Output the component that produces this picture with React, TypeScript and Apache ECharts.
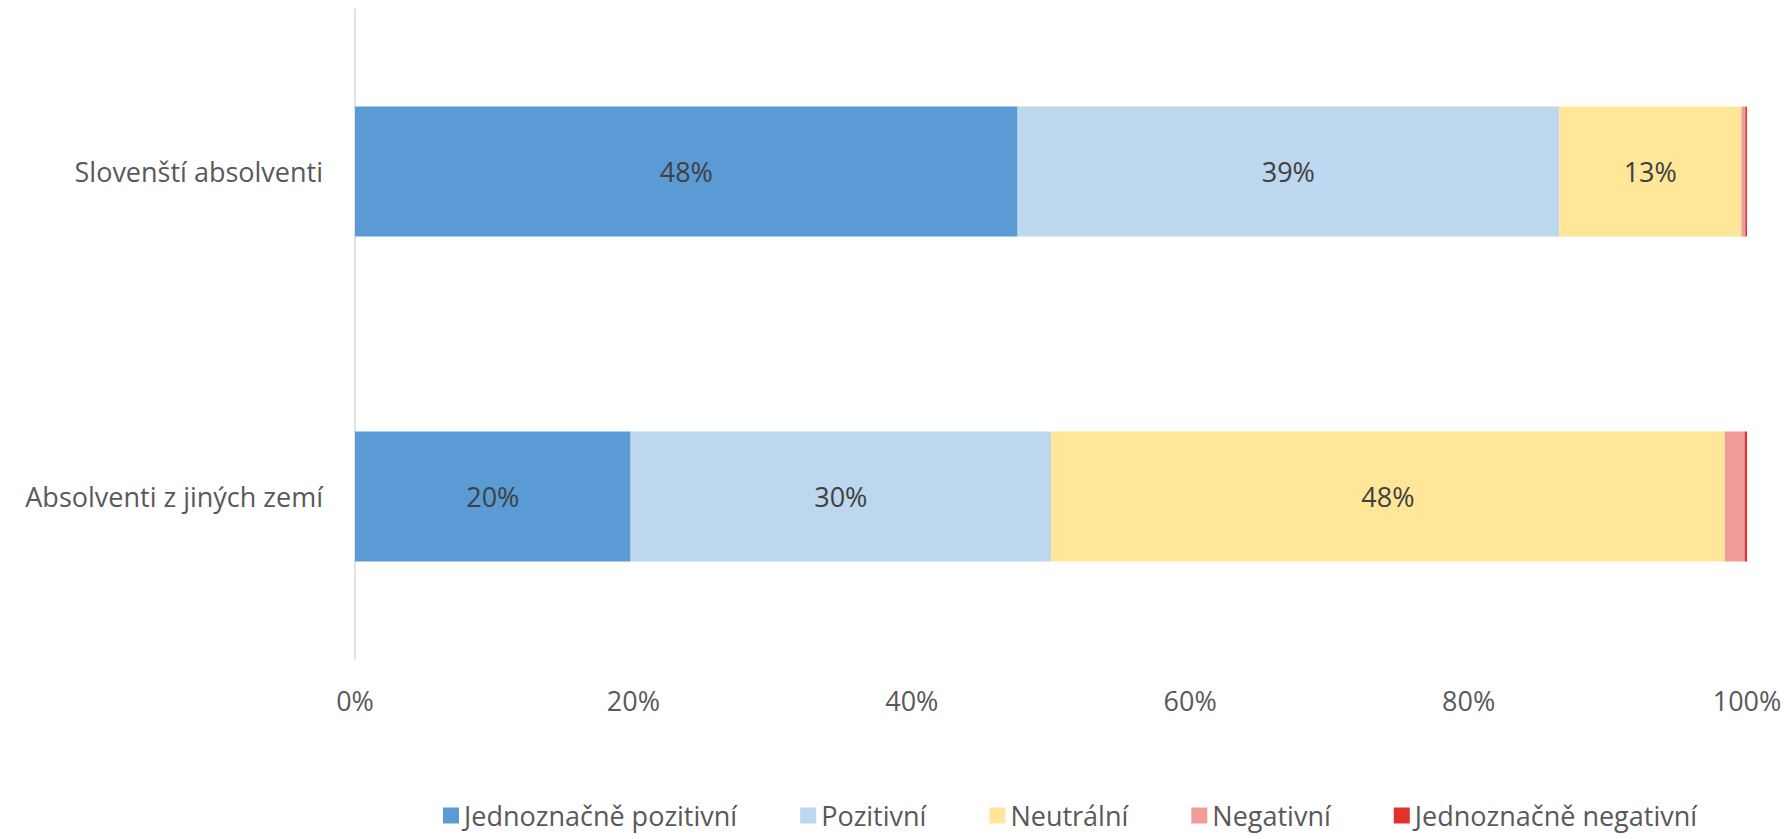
import React, { useEffect, useRef } from "react";
import * as echarts from "echarts";

const categories = ["Slovenští absolventi", "Absolventi z jiných zemí"];
const seriesNames = [
  "Jednoznačně pozitivní",
  "Pozitivní",
  "Neutrální",
  "Negativní",
  "Jednoznačně negativní",
];
const veryPositive = [47.6, 19.8];
const positive = [38.9, 30.2];
const neutral = [13.1, 48.4];
const negative = [0.28, 1.43];
const veryNegative = [0.12, 0.17];
const colors = ["#5B9BD5", "#BDD7EE", "#FFE699", "#F19C9B", "#E3312C"];
const xTicks = [0, 20, 40, 60, 80, 100];

const FONT = "'Open Sans', 'Noto Sans', sans-serif";
const FS = 27;

export default function App() {
  const ref = useRef<HTMLDivElement>(null);
  useEffect(() => {
    if (!ref.current) return;
    const chart = echarts.init(ref.current, undefined, { renderer: "svg" });
    const values = [veryPositive, positive, neutral, negative, veryNegative];
    const series = values.map((data, i) => ({
      name: seriesNames[i],
      type: "bar",
      stack: "total",
      barWidth: 130,
      data,
      itemStyle: { color: colors[i] },
      label: {
        show: i < 3,
        position: "inside",
        formatter: (p: any) => Math.round(p.value) + "%",
        color: "#404040",
        fontSize: FS,
        fontFamily: FONT,
      },
    }));
    chart.setOption({
      animation: false,
      backgroundColor: "#ffffff",
      grid: { left: 355, right: 43, top: 9, bottom: 180, containLabel: false },
      xAxis: {
        type: "value",
        min: xTicks[0],
        max: xTicks[xTicks.length - 1],
        interval: 20,
        axisLine: { show: false },
        axisTick: { show: false },
        splitLine: { show: false },
        axisLabel: {
          formatter: "{value}%",
          color: "#595959",
          fontSize: FS,
          fontFamily: FONT,
          margin: 28,
        },
      },
      yAxis: {
        type: "category",
        inverse: true,
        data: categories,
        axisLine: { show: true, lineStyle: { color: "#D9D9D9", width: 1.5 } },
        axisTick: { show: false },
        axisLabel: {
          color: "#595959",
          fontSize: FS,
          fontFamily: FONT,
          margin: 32,
        },
      },
      legend: {
        left: 438,
        top: 797,
        itemWidth: 16,
        itemHeight: 16,
        itemGap: 63,
        icon: "rect",
        textStyle: { color: "#595959", fontSize: FS, fontFamily: FONT },
        data: seriesNames,
      },
      series,
    });
    return () => chart.dispose();
  }, []);
  return (
    <div
      ref={ref}
      style={{ position: "fixed", left: 0, top: 0, width: 1790, height: 839 }}
    />
  );
}
